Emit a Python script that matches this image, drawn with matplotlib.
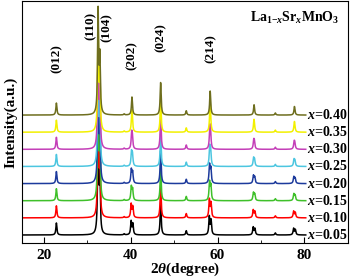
import matplotlib
matplotlib.use("Agg")
import matplotlib.pyplot as plt
import numpy as np
from matplotlib.ticker import MultipleLocator

plt.rcParams["font.family"] = ["Liberation Serif", "DejaVu Serif"]
plt.rcParams["font.weight"] = "bold"
plt.rcParams["axes.labelweight"] = "bold"
plt.rcParams["mathtext.fontset"] = "custom"
plt.rcParams["mathtext.rm"] = "Liberation Serif:bold"
plt.rcParams["mathtext.it"] = "Liberation Serif:bold:italic"
plt.rcParams["mathtext.bf"] = "Liberation Serif:bold"

# compositions, bottom to top
x_values = ["0.05", "0.10", "0.15", "0.20", "0.25", "0.30", "0.35", "0.40"]
colors = ["#000000", "#ff0000", "#3fc02a", "#1c3a9c",
          "#4cc6e0", "#c43fb8", "#f2f000", "#6e6e1e"]

# main reflections: position (2theta) and height (offset units)
peak_pos = [22.9, 32.5, 32.9, 38.5, 40.3, 46.9, 52.8, 58.3, 68.4, 73.3, 77.7]
peak_height = [0.70, 6.0, 3.2, 0.06, 1.05, 1.9, 0.25, 1.4, 0.6, 0.12, 0.5]
# rhombohedral splitting of peaks, shrinking as x grows (degrees)
splitting = [0.40, 0.38, 0.30, 0.30, 0.22, 0.15, 0.08, 0.0]
split_peaks = [40.3, 58.3, 68.4, 77.7]

hkl_labels = ["(012)", "(110)", "(104)", "(202)", "(024)", "(214)"]
hkl_x = [22.9, 30.9, 34.4, 40.3, 46.9, 58.3]
hkl_y = [10.3, 12.2, 12.1, 10.5, 11.5, 10.9]

two_theta = np.linspace(15, 80.3, 4000)
gamma = 0.14


def lorentz(center, height):
    return height * gamma**2 / ((two_theta - center) ** 2 + gamma**2)


fig = plt.figure(figsize=(3.5, 2.8), dpi=100)
ax = fig.add_axes([0.063, 0.132, 0.931, 0.864])

for i, (xv, color) in enumerate(zip(x_values, colors)):
    pattern = np.zeros_like(two_theta)
    for pos, h in zip(peak_pos, peak_height):
        if pos in split_peaks and splitting[i] > 0:
            pattern += lorentz(pos - splitting[i] / 2, h * 0.75)
            pattern += lorentz(pos + splitting[i] / 2, h * 0.6)
        else:
            pattern += lorentz(pos, h)
    ax.plot(two_theta, pattern + i, color=color, lw=1.1)
    ax.text(80.5, i, "$x$=" + xv, fontsize=10, fontweight="bold",
            va="center", ha="left")

for label, lx, ly in zip(hkl_labels, hkl_x, hkl_y):
    ax.text(lx, ly, label, rotation=90, fontsize=9.5, fontweight="bold",
            ha="center", va="center")

ax.text(0.975, 0.93, "La$_{1\\mathrm{-}x}$Sr$_x$MnO$_3$", transform=ax.transAxes,
        fontsize=10, fontweight="bold", ha="right", va="center")

ax.set_xlim(15, 90)
ax.set_ylim(-0.47, 13.65)
ax.set_yticks([])
ax.xaxis.set_major_locator(MultipleLocator(20))
ax.xaxis.set_minor_locator(MultipleLocator(10))
ax.tick_params(axis="x", which="major", direction="in", length=4,
               labelsize=11, pad=4)
ax.tick_params(axis="x", which="minor", direction="in", length=2)
for lbl in ax.get_xticklabels():
    lbl.set_fontweight("bold")
ax.set_xlabel("2$\\theta$(degree)", fontsize=11, fontweight="bold", labelpad=-1)
ax.set_ylabel("Intensity(a.u.)", fontsize=11, fontweight="bold", labelpad=3)

fig.savefig("out.png", dpi=100)
